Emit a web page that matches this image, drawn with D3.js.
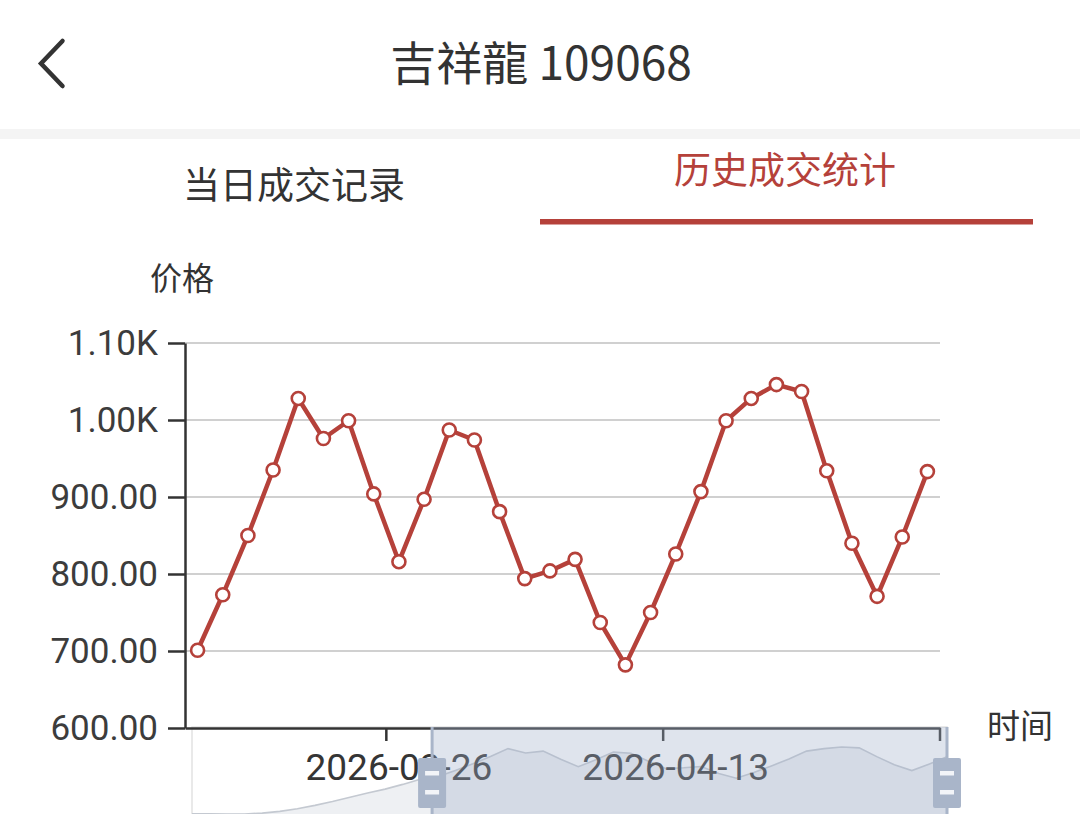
<!DOCTYPE html>
<html><head><meta charset="utf-8">
<script src="https://cdn.jsdelivr.net/npm/d3@7/dist/d3.min.js"></script>
<style>
html,body{margin:0;padding:0;background:#fff;}
svg{display:block;}
</style></head><body>
<svg id="c" width="1080" height="814"></svg>
<script>
// ---- data ----
const dates = [
  "2026-02-24","2026-02-25","2026-02-26","2026-02-27","2026-03-02","2026-03-03","2026-03-04",
  "2026-03-05","2026-03-06","2026-03-09","2026-03-10","2026-03-11","2026-03-12","2026-03-13",
  "2026-03-16","2026-03-17","2026-03-18","2026-03-19","2026-03-20","2026-03-23","2026-03-24",
  "2026-03-25","2026-03-26","2026-03-27","2026-03-30","2026-03-31","2026-04-01","2026-04-02",
  "2026-04-03","2026-04-07","2026-04-08","2026-04-09","2026-04-10","2026-04-13","2026-04-14",
  "2026-04-15","2026-04-16","2026-04-17","2026-04-20","2026-04-21","2026-04-22","2026-04-23",
  "2026-04-24","2026-04-27"
];
const prices = [
  268, 266, 265, 265, 275, 295, 325, 365, 410, 460, 510, 555, 610, 670,
  701, 773, 850, 935, 1028, 976, 999, 904, 816, 897, 987, 974, 881, 794, 804, 819,
  737, 682, 750, 826, 907, 999, 1028, 1046, 1037, 934, 840, 771, 848, 933
];
const visibleStart = 14;          // first index shown in the main chart
const zoomStartPct = 31.8;        // dataZoom window start (percent)
const zoomEndPct = 100;           // dataZoom window end (percent)
const yTickValues = [600, 700, 800, 900, 1000, 1100];
const labelInterval = 11;
const titleText = "吉祥龍 109068";
const tabLabels = ["当日成交记录", "历史成交统计"];
const yAxisName = "价格";
const xAxisName = "时间";

// ---- drawing ----
const W = 1080, H = 814;
const FONT_CJK = "'Noto Sans CJK SC', 'Noto Sans', sans-serif";
const FONT_NUM = "Roboto, 'Noto Sans', sans-serif";
const RED = "#b5413a";
const svg = d3.select("#c");

// header
svg.append("path").attr("d", "M62.5,41 L41,63.5 L62.5,86")
  .attr("fill", "none").attr("stroke", "#333").attr("stroke-width", 4.5)
  .attr("stroke-linecap", "round").attr("stroke-linejoin", "miter");
svg.append("text").attr("x", 541).attr("y", 80).attr("text-anchor", "middle")
  .attr("font-family", FONT_CJK).attr("font-size", 46).attr("fill", "#333").text(titleText);
svg.append("rect").attr("x", 0).attr("y", 129).attr("width", W).attr("height", 10).attr("fill", "#f4f4f4");

// tabs
svg.append("text").attr("x", 294).attr("y", 199).attr("text-anchor", "middle")
  .attr("font-family", FONT_CJK).attr("font-size", 37).attr("fill", "#333").text(tabLabels[0]);
svg.append("text").attr("x", 785).attr("y", 184).attr("text-anchor", "middle")
  .attr("font-family", FONT_CJK).attr("font-size", 37).attr("fill", RED).text(tabLabels[1]);
svg.append("rect").attr("x", 540).attr("y", 219).attr("width", 493).attr("height", 5.5).attr("fill", RED);

// chart scales
const visDates = dates.slice(visibleStart);
const visPrices = prices.slice(visibleStart);
const x = d3.scaleBand().domain(visDates).range([185, 940]).padding(0);
const y = d3.scaleLinear().domain([600, 1100]).range([728, 343]);
const cx = d => x(d) + x.bandwidth() / 2;

svg.append("text").attr("x", 150).attr("y", 290)
  .attr("font-family", FONT_CJK).attr("font-size", 32).attr("fill", "#333").text(yAxisName);
svg.append("text").attr("x", 987).attr("y", 738)
  .attr("font-family", FONT_CJK).attr("font-size", 33).attr("fill", "#333").text(xAxisName);

// dataZoom slider background + data shadow (drawn below axis labels)
const sL = 192, sR = 947, sT = 727, sB = 834;
const sx = d3.scalePoint().domain(dates).range([sL, sR]);
const ext = d3.extent(prices), pad = (ext[1] - ext[0]) * 0.3;
const sy = d3.scaleLinear().domain([ext[0] - pad, ext[1] + pad]).range([sB, sT]);
const series = prices.map((v, i) => [dates[i], v]);
svg.append("rect").attr("x", sL).attr("y", sT).attr("width", sR - sL).attr("height", sB - sT)
  .attr("fill", "none").attr("stroke", "#e2e2e2").attr("stroke-width", 1.5);
svg.append("path").datum(series)
  .attr("d", d3.area().x(d => sx(d[0])).y0(sB).y1(d => sy(d[1])))
  .attr("fill", "#eef0f3");
svg.append("path").datum(series)
  .attr("d", d3.line().x(d => sx(d[0])).y(d => sy(d[1])))
  .attr("fill", "none").attr("stroke", "#c4c9d1").attr("stroke-width", 1.6);

// grid
svg.append("g").selectAll("line").data(yTickValues.filter(v => v > 600)).join("line")
  .attr("x1", 185).attr("x2", 940).attr("y1", d => y(d)).attr("y2", d => y(d))
  .attr("stroke", "#d0d0d0").attr("stroke-width", 2);

const fmt = v => v >= 1000 ? (v / 1000).toFixed(2) + "K" : v.toFixed(2);
const yAxis = svg.append("g").attr("transform", "translate(185,0)")
  .call(d3.axisLeft(y).tickValues(yTickValues).tickSize(17).tickSizeOuter(0).tickPadding(10).tickFormat(fmt));
yAxis.select(".domain").attr("stroke", "#333").attr("stroke-width", 2.5);
yAxis.selectAll(".tick line").attr("stroke", "#333").attr("stroke-width", 2.5);
yAxis.selectAll("text").attr("font-family", FONT_NUM).attr("font-size", 35).attr("fill", "#3c3c3c");

// x axis
const labelDates = dates.filter((d, i) => i >= visibleStart && i % labelInterval === 0);
const xAxis = svg.append("g").attr("transform", "translate(0,728)")
  .call(d3.axisBottom(x).tickValues(labelDates).tickSize(0).tickSizeOuter(0).tickPadding(26));
xAxis.select(".domain").attr("stroke", "#333").attr("stroke-width", 2.5);
xAxis.selectAll("text").attr("font-family", FONT_NUM).attr("font-size", 37).attr("fill", "#353535");
const tickPos = labelDates.map(d => x(d)).concat([x.range()[1]]);
xAxis.selectAll("line.bt").data(tickPos).join("line").attr("class", "bt")
  .attr("x1", d => d).attr("x2", d => d).attr("y1", 0).attr("y2", 13)
  .attr("stroke", "#333").attr("stroke-width", 2.5);

// series
svg.append("path").datum(visPrices.map((v, i) => [visDates[i], v]))
  .attr("d", d3.line().x(d => cx(d[0])).y(d => y(d[1])))
  .attr("fill", "none").attr("stroke", RED).attr("stroke-width", 4.5).attr("stroke-linejoin", "round");
svg.append("g").selectAll("circle").data(visPrices.map((v, i) => [visDates[i], v])).join("circle")
  .attr("cx", d => cx(d[0])).attr("cy", d => y(d[1])).attr("r", 6.5)
  .attr("fill", "#fff").attr("stroke", RED).attr("stroke-width", 2.6);

// dataZoom filler + handles
const hx0 = sL + (sR - sL) * zoomStartPct / 100;
const hx1 = sL + (sR - sL) * zoomEndPct / 100;
svg.append("rect").attr("x", hx0).attr("y", sT).attr("width", hx1 - hx0).attr("height", sB - sT)
  .attr("fill", "rgba(160,177,202,0.34)");

const HC = "#a9b5c9";
[hx0, hx1].forEach(hx => {
  const g = svg.append("g");
  g.append("line").attr("x1", hx).attr("x2", hx).attr("y1", sT).attr("y2", sB)
    .attr("stroke", HC).attr("stroke-width", 3);
  g.append("rect").attr("x", hx - 14).attr("y", 758).attr("width", 28).attr("height", 50)
    .attr("rx", 2).attr("fill", HC);
  [773, 792].forEach(by => g.append("rect").attr("x", hx - 7).attr("y", by - 2).attr("width", 14).attr("height", 4.5)
    .attr("fill", "#f2f4f8"));
});
</script>
</body></html>
